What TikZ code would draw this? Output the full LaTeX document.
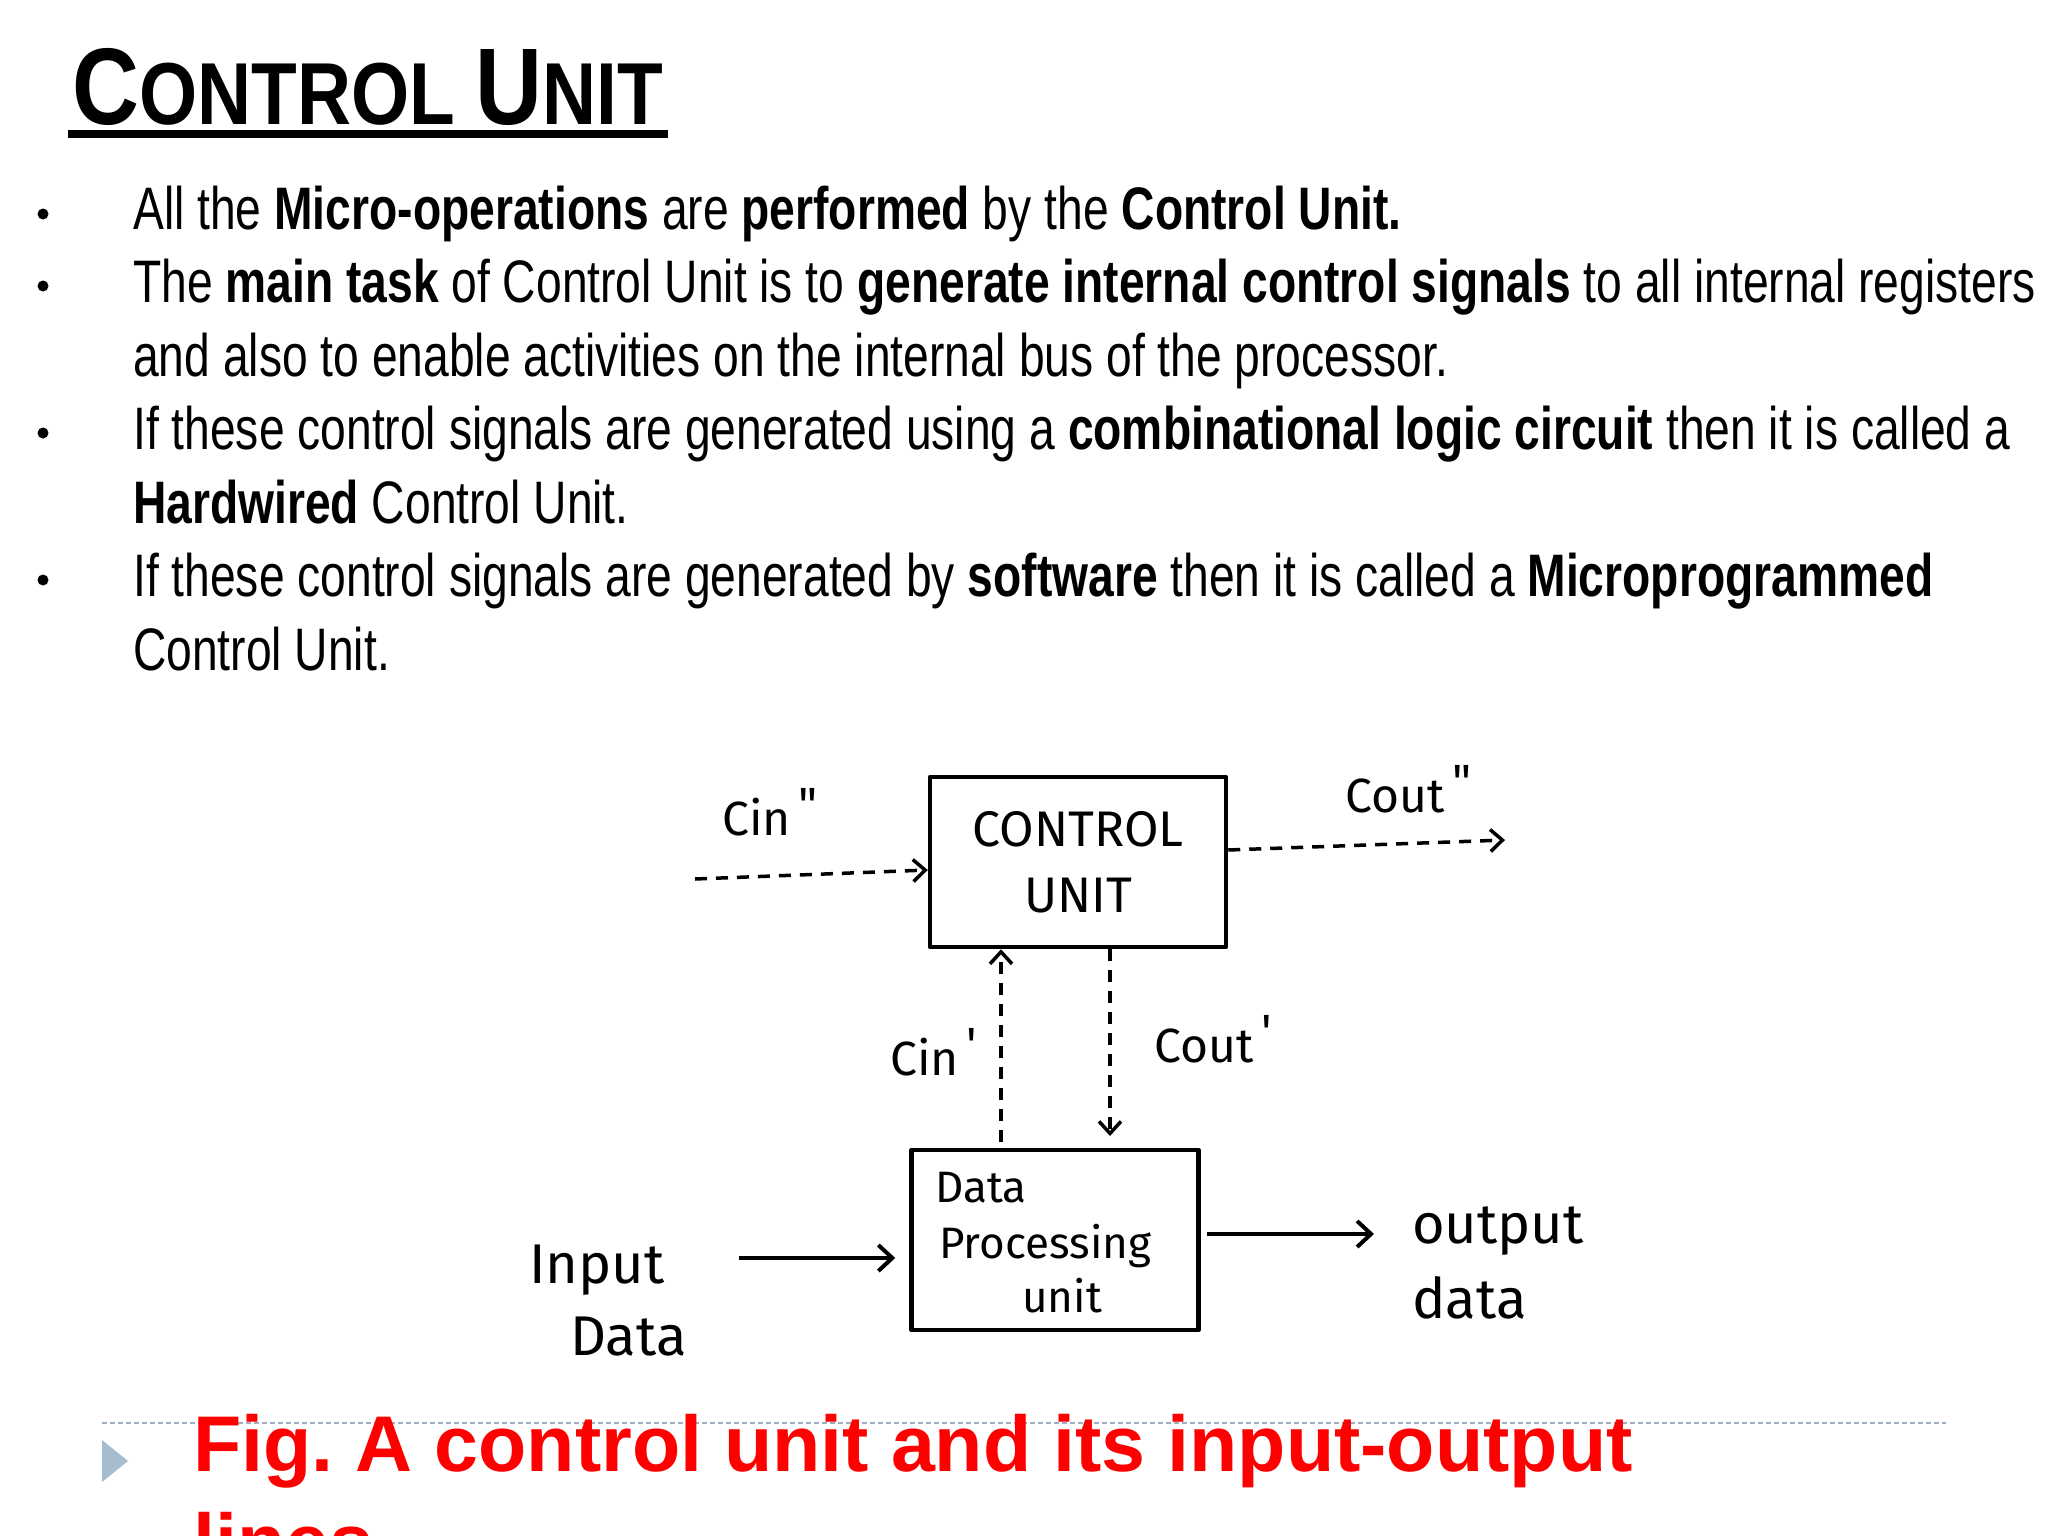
\documentclass[tikz,border=0pt]{standalone}
\usepackage{fontspec}
\setmainfont[FakeStretch=0.77]{Liberation Sans}
\newfontfamily\headfont[FakeStretch=0.85]{Liberation Sans}
\newfontfamily\capfont{Liberation Sans}
\newfontfamily\handfont{Fira Sans}
\usetikzlibrary{arrows.meta,positioning}
\definecolor{capRed}{RGB}{255,0,0}
\definecolor{markGray}{RGB}{166,188,207}
\definecolor{ruleGray}{RGB}{160,175,192}
\newcommand{\dtick}{\raisebox{14pt}{\,\textquotedbl}}
\newcommand{\stick}{\raisebox{14pt}{\,\textquotesingle}}

\begin{document}
\frenchspacing
\begin{tikzpicture}[x=1pt, y=-1pt, line join=round,
  txt/.style={anchor=base west, inner sep=0pt, font=\fontsize{60}{72}\selectfont},
  hand/.style={anchor=base west, inner sep=0pt, font=\handfont\fontsize{48}{56}\selectfont},
  unitbox/.style={draw, line width=4.5pt, inner sep=0pt, align=center},
  sig/.style={line width=3.5pt, dash pattern=on 12pt off 9pt, -{Straight Barb[length=12pt,width=22pt]}},
  flow/.style={line width=4pt, -{Straight Barb[length=14pt,width=26pt]}}]
\useasboundingbox (0,0) rectangle (2048,1536);
\clip (0,0) rectangle (2048,1536);
\fill[white] (0,0) rectangle (2048,1536);
% heading
\node[anchor=base west, inner sep=0pt, font=\headfont\bfseries\fontsize{88}{100}\selectfont] (head) at (72,125)
  {{\fontsize{109}{120}\selectfont C}ONTROL {\fontsize{109}{120}\selectfont U}NIT};
\draw[line width=8pt] (68,134) -- (668,134);
% bullet text
\fill (43,214) circle (5.5pt);
\fill (43,286) circle (5.5pt);
\fill (43,433) circle (5.5pt);
\fill (43,580) circle (5.5pt);
\node[txt] (l1) at (133,229) {All the \textbf{Micro-operations} are \textbf{performed} by the \textbf{Control Unit.}};
\node[txt] (l2) at (133,302) {The \textbf{main task} of Control Unit is to \textbf{generate internal control signals} to all internal registers};
\node[txt] (l3) at (133,376) {and also to enable activities on the internal bus of the processor.};
\node[txt] (l4) at (133,449) {If these control signals are generated using a \textbf{combinational logic circuit} then it is called a};
\node[txt] (l5) at (133,523) {\textbf{Hardwired} Control Unit.};
\node[txt] (l6) at (133,596) {If these control signals are generated by \textbf{software} then it is called a \textbf{Microprogrammed}};
\node[txt] (l7) at (133,670) {Control Unit.};
% diagram
\node[unitbox, minimum width=296pt, minimum height=170pt, font=\handfont\fontsize{50}{66}\selectfont] (cu) at (1078,862) {CONTROL\\UNIT};
\node[unitbox, minimum width=287pt, minimum height=180pt] (dp) at (1055,1240) {};
\node[hand, font=\handfont\fontsize{44}{50}\selectfont] (dpa) at (935,1202) {Data};
\node[hand, font=\handfont\fontsize{44}{50}\selectfont] (dpb) at (939,1258) {Processing};
\node[hand, font=\handfont\fontsize{44}{50}\selectfont] (dpc) at (1022,1312) {unit};
\node[hand] (cinb) at (722,835) {Cin\dtick};
\node[hand] (coutb) at (1345,812) {Cout\dtick};
\node[hand] (cina) at (890,1075) {Cin\stick};
\node[hand] (couta) at (1154,1062) {Cout\stick};
\node[hand, font=\handfont\fontsize{56}{60}\selectfont] (ina) at (529,1283) {Input};
\node[hand, font=\handfont\fontsize{56}{60}\selectfont] (inb) at (570,1355) {Data};
\node[hand, font=\handfont\fontsize{56}{60}\selectfont] (outa) at (1412,1243) {output};
\node[hand, font=\handfont\fontsize{56}{60}\selectfont] (outb) at (1412,1318) {data};
\coordinate (cinbL) at (695,879);
\coordinate (coutbR) at (1505,840);
\coordinate (cinaB) at (1001,1142);
\coordinate (coutaB) at (1110,1136);
\coordinate (inL) at (739,1258);
\coordinate (outR) at (1374,1234);
\draw[sig] (cinbL) -- ([yshift=-8pt]cu.west);
\draw[sig] ([yshift=12pt]cu.east) -- (coutbR);
\draw[sig] (cinaB) -- (cinaB |- cu.south);
\draw[sig] (coutaB |- cu.south) -- (coutaB);
\draw[flow, shorten >=14pt] (inL) -- (inL -| dp.west);
\draw[flow, shorten <=6pt] (dp.east |- outR) -- (outR);
% caption
\draw[ruleGray, line width=2.5pt, dash pattern=on 5pt off 3pt] (102,1423) -- (1946,1423);
\fill[markGray] (102,1440) -- (128,1461) -- (102,1482) -- cycle;
\node[anchor=base west, inner sep=0pt, text=capRed, font=\capfont\bfseries\fontsize{79}{96}\selectfont] (capa) at (193,1471) {Fig. A control unit and its input-output};
\node[anchor=base west, inner sep=0pt, text=capRed, font=\capfont\bfseries\fontsize{79}{96}\selectfont] (capb) at (193,1569) {lines};
\end{tikzpicture}
\end{document}
